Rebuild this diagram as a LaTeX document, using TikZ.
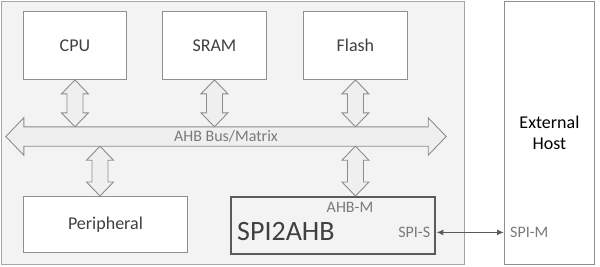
\documentclass[tikz,border=0pt]{standalone}
\usepackage{fontspec}
\setmainfont{Carlito}
\usetikzlibrary{calc,arrows.meta}
\definecolor{outerline}{HTML}{A6A6A6}
\definecolor{outerfill}{HTML}{F3F3F3}
\definecolor{boxline}{HTML}{8F8F8F}
\definecolor{txt}{HTML}{404040}
\definecolor{lbl}{HTML}{7A7A7A}
\definecolor{dark}{HTML}{5A5A5A}
\definecolor{arrfill}{HTML}{EFEFEF}
\definecolor{arrline}{HTML}{8C8C8C}
\newcommand\vdarrow[3]{%
  \path (#2 -| #1) coordinate (t) (#3 -| #1) coordinate (b);
  \draw[blockarrow] (t) -- ++(13.5,14) -- ++(-5.5,0) -- ($(b)+(8,-14)$) -- ++(5.5,0) -- (b)
    -- ++(-13.5,-14) -- ++(5.5,0) -- ($(t)+(-8,14)$) -- ++(-5.5,0) -- cycle;}
\begin{document}
\begin{tikzpicture}[x=1pt,y=-1pt,
  block/.style={draw=boxline, fill=white, line width=0.9pt, anchor=north west, inner sep=0pt,
    text=txt, font=\fontsize{18}{21}\selectfont},
  blockarrow/.style={draw=arrline, fill=arrfill, line width=0.9pt, line join=miter},
  lab/.style={text=lbl, font=\fontsize{16}{19}\selectfont, inner sep=0pt}]
\useasboundingbox (0,0) rectangle (600,266);
\node[draw=outerline, fill=outerfill, line width=1pt, anchor=north west, inner sep=0pt,
  minimum width=463pt, minimum height=263pt] (soc) at (1,1) {};
\node[block, minimum width=103pt, minimum height=68pt] (cpu) at (23,11) {CPU};
\node[block, minimum width=104pt, minimum height=68pt] (sram) at (162,11) {SRAM};
\node[block, minimum width=104pt, minimum height=68pt] (flash) at (303,11) {Flash};
\node[block, minimum width=164pt, minimum height=56pt] (periph) at (23,196) {Peripheral};
\node[block, draw=dark, fill=outerfill, line width=2.4pt, minimum width=204pt, minimum height=57pt] (spi) at (230,196) {};
\node[block, minimum width=90pt, minimum height=263pt, align=center, text=black,
  font=\fontsize{18}{21.5}\selectfont] (host) at (504,1) {External\\Host};
% bus
\node[lab, minimum width=404pt, minimum height=19pt] (bus) at (226,136.5) {};
\draw[blockarrow] (bus.north west) -- ++(0,-9) -- ($(bus.west)+(-18,0)$) -- ($(bus.south west)+(0,9)$)
  -- (bus.south west) -- (bus.south east) -- ++(0,9) -- ($(bus.east)+(18,0)$)
  -- ($(bus.north east)+(0,-9)$) -- (bus.north east) -- cycle;
\node[lab] (buslabel) at (bus.center) {AHB Bus/Matrix};
% vertical arrows
\coordinate (px) at (100,0);
\vdarrow{cpu.south}{cpu.south}{bus.north}
\vdarrow{sram.south}{sram.south}{bus.north}
\vdarrow{flash.south}{flash.south}{bus.north}
\vdarrow{px}{bus.south}{periph.north}
\vdarrow{flash.south}{bus.south}{spi.north}
% SPI2AHB labels
\node[lab] (ahbm) at ($(spi.north west)+(120,11.5)$) {AHB-M};
\node[lab, anchor=east] (spis) at ($(spi.south east)+(-6,-23)$) {SPI-S};
\node[anchor=base west, inner sep=0pt, text=txt, font=\fontsize{28}{31}\selectfont] (spiname)
  at ($(spi.south west)+(7,-15)$) {SPI2AHB};
\node[lab, anchor=west] (spim) at ($(spis -| host.west)+(6,0)$) {SPI-M};
\draw[dark, line width=1.4pt, {Latex[length=7pt,width=6pt]}-{Latex[length=7pt,width=6pt]}]
  (spis -| spi.east) -- (spis -| host.west);
\end{tikzpicture}
\end{document}
